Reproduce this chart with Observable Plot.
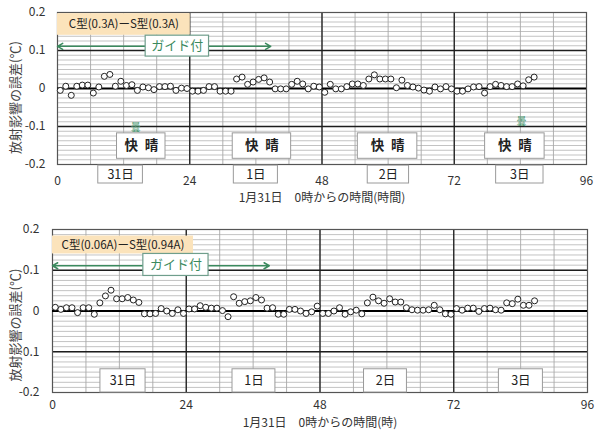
<!DOCTYPE html>
<html><head><meta charset="utf-8">
<script src="https://cdn.jsdelivr.net/npm/d3@7"></script>
<script src="https://cdn.jsdelivr.net/npm/@observablehq/plot@0.6"></script>
<style>
body{margin:0;background:#fff;font-family:"Noto Sans CJK JP","Noto Sans",sans-serif;}
#wrap{position:relative;width:600px;height:436px;overflow:hidden;}
#top,#bot{position:absolute;left:0;}
#top{top:0}
#bot{top:215px}
svg{overflow:visible}
</style></head><body>
<div id="wrap"><div id="top"></div><div id="bot"></div></div>
<script>
// ---- data ----
const hours = [0.5,1.5,2.5,3.5,4.5,5.5,6.5,7.5,8.5,9.5,10.5,11.5,12.5,13.5,14.5,15.5,16.5,17.5,18.5,19.5,20.5,21.5,22.5,23.5,24.5,25.5,26.5,27.5,28.5,29.5,30.5,31.5,32.5,33.5,34.5,35.5,36.5,37.5,38.5,39.5,40.5,41.5,42.5,43.5,44.5,45.5,46.5,47.5,48.5,49.5,50.5,51.5,52.5,53.5,54.5,55.5,56.5,57.5,58.5,59.5,60.5,61.5,62.5,63.5,64.5,65.5,66.5,67.5,68.5,69.5,70.5,71.5,72.5,73.5,74.5,75.5,76.5,77.5,78.5,79.5,80.5,81.5,82.5,83.5,84.5,85.5,86.5];
const topValues = [-0.005,0.006,-0.018,0.006,0.009,0.009,-0.012,0.004,0.032,0.037,
 0.006,0.019,0.008,0.010,-0.005,0.004,0.002,-0.003,0.005,0.005,
 0.006,-0.005,0.001,0.000,-0.007,-0.007,-0.005,0.005,0.005,-0.007,
 -0.007,-0.007,0.025,0.030,0.011,0.017,0.024,0.028,0.017,-0.001,
 -0.001,-0.001,0.011,0.019,0.012,-0.001,0.006,0.004,-0.010,0.011,
 -0.001,-0.001,0.005,0.012,0.012,0.008,0.025,0.036,0.025,0.025,
 0.025,0.002,0.022,0.008,0.004,0.001,-0.004,-0.007,0.004,-0.001,
 0.005,-0.001,-0.007,-0.007,-0.001,0.004,0.005,-0.012,0.005,0.011,
 0.008,0.005,0.005,0.012,0.007,0.023,0.030];
const bottomValues = [0.009,0.004,0.008,0.008,-0.004,0.008,0.008,-0.008,0.020,0.037,
 0.051,0.030,0.030,0.033,0.027,0.021,-0.007,-0.007,-0.006,0.006,
 0.000,-0.006,0.003,-0.006,0.005,0.005,0.013,0.009,0.007,0.007,
 0.001,-0.014,0.035,0.019,0.023,0.025,0.033,0.027,0.007,0.008,
 -0.008,-0.008,0.004,0.004,0.000,-0.006,-0.002,0.012,-0.006,-0.006,
 0.000,0.008,-0.008,-0.002,0.002,-0.007,0.020,0.034,0.025,0.019,
 0.030,0.022,0.022,0.008,0.003,0.002,0.002,0.003,0.014,0.003,
 -0.007,-0.008,0.006,0.002,0.007,0.007,-0.001,0.006,0.007,0.003,
 0.002,0.020,0.018,0.029,0.014,0.014,0.025];
const xTicks = [0,24,48,72,96];
const yTicks = [-0.2,-0.1,0,0.1,0.2];
const dayLabels = ["31日","1日","2日","3日"];
const weatherLabel = "快\u2002晴";
const cloudLabel = "曇";
const seriesTitles = ["C型(0.3A)ーS型(0.3A)","C型(0.06A)ーS型(0.94A)"];
const guideLabel = "ガイド付";
const xTitles = ["1月31日　0時からの時間(時間)","1月31日　0時からの時間(時)"];
const yTitle = "放射影響の誤差(℃)";

// ---- annotation placement (hours / ℃) ----
const topCfg = {
  values: topValues, title: seriesTitles[0], xTitle: xTitles[0],
  height: 215, ml: 57, mr: 14, mt: 12, mb: 51,
  xPad: 12, yPad: 12, xTitleDy: 34, yTitleDx: -42, yTitleDy: 9,
  titleBox: {x1: 0, x2: 24.1, y1: 0.14, y2: 0.197},
  guideBox: {x1: 16, x2: 27.5, y1: 0.084, y2: 0.139},
  arrow: {x1: 0, x2: 38.7, y: 0.111},
  days: [{x1:7.4,x2:15.5},{x1:32,x2:40},{x1:56.3,x2:63.8},{x1:79.6,x2:88.2}].map((d,i)=>({...d,y1:-0.203,y2:-0.25,label:dayLabels[i]})),
  weather: [{x1:10.8,x2:19.6},{x1:31.8,x2:42.4},{x1:54.5,x2:65.3},{x1:77.6,x2:88.4}].map(d=>({...d,y1:-0.118,y2:-0.185,label:weatherLabel})),
  clouds: [{x:14.2,y:-0.103},{x:84.2,y:-0.088}]
};
const botCfg = {
  values: bottomValues, title: seriesTitles[1], xTitle: xTitles[1],
  height: 221, ml: 52, mr: 13, mt: 14, mb: 44,
  xPad: 8, yPad: 13, xTitleDy: 31, yTitleDx: -37, yTitleDy: 14,
  titleBox: {x1: 0, x2: 25.3, y1: 0.14, y2: 0.184},
  guideBox: {x1: 16.3, x2: 28, y1: 0.086, y2: 0.14},
  arrow: {x1: 0, x2: 38.9, y: 0.111},
  days: [{x1:8.6,x2:16.7},{x1:32.3,x2:40},{x1:55.9,x2:63.6},{x1:80.1,x2:88}].map((d,i)=>({...d,y1:-0.2,y2:-0.143,label:dayLabels[i]})),
  weather: [],
  clouds: []
};

const FONT = '"Noto Sans CJK JP","Noto Sans",sans-serif';
const minorX = d3.range(0, 97, 6);
const minorY = d3.range(-0.2, 0.2001, 0.0125);
const green = "#3b8a5e";

function panel(c) {
  const data = hours.map((h, i) => ({h, v: c.values[i]}));
  const mid = b => (b.x1 + b.x2) / 2;
  const midY = b => (b.y1 + b.y2) / 2;
  const amid = (c.arrow.x1 + c.arrow.x2) / 2;
  return Plot.plot({
    width: 600, height: c.height,
    marginLeft: c.ml, marginRight: c.mr, marginTop: c.mt, marginBottom: c.mb,
    x: {domain: [0, 96]},
    y: {domain: [-0.2, 0.2]},
    style: {fontFamily: FONT, fontSize: "12px", color: "#333", background: "transparent", overflow: "visible"},
    marks: [
      Plot.ruleY(minorY, {stroke: "#b4b4b4", strokeWidth: 0.8}),
      Plot.ruleX(minorX, {stroke: "#a8a8a8", strokeWidth: 0.9}),
      Plot.ruleX([24, 48, 72], {stroke: "#1e1e1e", strokeWidth: 1.3}),
      Plot.ruleY([-0.1, 0.1], {stroke: "#1e1e1e", strokeWidth: 1.3}),
      Plot.frame({stroke: "#555", strokeWidth: 1.2}),
      Plot.ruleY([0], {stroke: "#000", strokeWidth: 2.2}),
      Plot.axisX({ticks: xTicks, tickSize: 0, tickPadding: c.xPad, label: null, fontSize: 12, fill: "#333"}),
      Plot.axisY({ticks: yTicks, tickSize: 0, tickPadding: c.yPad, label: null, tickFormat: d => String(d), fontSize: 12, fill: "#333"}),
      // title box
      Plot.rect([c.titleBox], {x1: "x1", x2: "x2", y1: "y1", y2: "y2", fill: "#fbe3bb"}),
      Plot.text([c.titleBox], {x: mid, y: midY, text: () => c.title, fontSize: 11.5, fill: "#222"}),
      // guide arrow
      Plot.arrow([c.arrow], {x1: () => amid, x2: "x1", y1: "y", y2: "y", stroke: green, strokeWidth: 1.5, headLength: 6}),
      Plot.arrow([c.arrow], {x1: () => amid, x2: "x2", y1: "y", y2: "y", stroke: green, strokeWidth: 1.5, headLength: 6}),
      Plot.rect([c.guideBox], {x1: "x1", x2: "x2", y1: "y1", y2: "y2", fill: "#fff", stroke: "#6f9e8c", strokeWidth: 1.2}),
      Plot.text([c.guideBox], {x: mid, y: midY, text: () => guideLabel, fontSize: 13, fill: green}),
      // weather
      Plot.rect(c.weather, {x1: "x1", x2: "x2", y1: "y1", y2: "y2", fill: "#fff", stroke: "#9a9a9a"}),
      Plot.text(c.weather, {x: mid, y: midY, text: "label", fontSize: 13.5, fontWeight: "bold", fill: "#222"}),
      Plot.text(c.clouds, {x: "x", y: "y", text: () => cloudLabel, fontSize: 10, fill: "#4f9a74"}),
      // days
      Plot.rect(c.days, {x1: "x1", x2: "x2", y1: "y1", y2: "y2", fill: "#fff", stroke: "#9a9a9a"}),
      Plot.text(c.days, {x: mid, y: midY, text: "label", fontSize: 12.5, fill: "#222"}),
      // data
      Plot.dot(data, {x: "h", y: "v", r: 3, stroke: "#222", strokeWidth: 1, fill: "#fff"}),
      // titles
      Plot.text([c.xTitle], {frameAnchor: "bottom", lineAnchor: "middle", dy: c.xTitleDy, text: d => d, fontSize: 12, fill: "#333"}),
      Plot.text([yTitle], {frameAnchor: "left", textAnchor: "middle", lineAnchor: "middle", dx: c.yTitleDx, dy: c.yTitleDy, rotate: -90, text: d => d, fontSize: 13, fill: "#444", stroke: "#fff", strokeWidth: 3})
    ]
  });
}

document.getElementById("top").append(panel(topCfg));
document.getElementById("bot").append(panel(botCfg));
</script>
</body></html>
